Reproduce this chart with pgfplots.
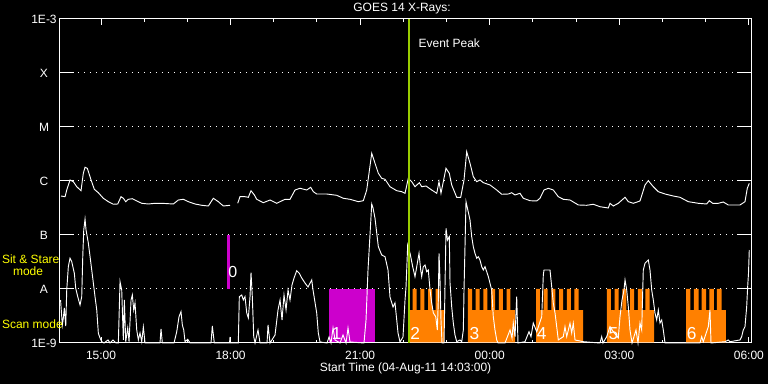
\documentclass[border=0pt]{standalone}
\usepackage{fontspec}
\setmainfont{Liberation Sans}
\usepackage{pgfplots}
\pgfplotsset{compat=1.18}
\definecolor{magcol}{RGB}{204,0,204}
\definecolor{orng}{RGB}{255,128,0}
\definecolor{evgreen}{RGB}{153,204,0}
\definecolor{ylw}{RGB}{255,255,0}
\begin{document}
\begin{tikzpicture}[font=\fontsize{9}{10}\selectfont]
\fill[black] (-45pt,-30.75pt) rectangle (531pt,257.25pt);
\path[use as bounding box] (-45pt,-30.75pt) rectangle (531pt,257.25pt);
\begin{axis}[
 at={(0,0)}, anchor=south west, scale only axis, width=518.25pt, height=243pt,
 font=\fontsize{9}{10}\selectfont,
 xmin=0.05, xmax=16.05, ymin=-9, ymax=-3,
 axis line style={white, line width=0.75pt},
 xtick={1,4,7,10,13,16}, xticklabels={15:00,18:00,21:00,00:00,03:00,06:00},
 minor xtick={2,3,5,6,8,9,11,12,14,15},
 ytick={-9,-8,-7,-6,-5,-4,-3}, yticklabels={1E-9,A,B,C,M,X,1E-3},
 tick align=inside,
 xtick style={white, line width=0.75pt, /pgfplots/major tick length=4.5pt, /pgfplots/minor tick length=2.25pt},
 ytick style={white, line width=0.75pt, /pgfplots/major tick length=10.5pt},
 ymajorgrids, grid style={white, line width=0.75pt, dash pattern=on 0.75pt off 3.75pt},
 xticklabel style={text=white, anchor=center, yshift=-9pt},
 yticklabel style={text=white, anchor=center, xshift=-12pt},
 clip=false,
]
% scan / sit & stare blocks
\addplot[fill=magcol, draw=none, mark=none] coordinates {(6.279,-8.99) (6.279,-8) (7.344,-8) (7.344,-8.99)} -- cycle;
\addplot[magcol, line width=2.5pt, mark=none] coordinates {(3.95,-8) (3.95,-7)};
\addplot[fill=orng, draw=none, mark=none] coordinates {(8.131,-8.99) (8.131,-8.389) (8.217,-8.389) (8.217,-8) (8.310,-8) (8.310,-8.389) (8.393,-8.389) (8.393,-8) (8.486,-8) (8.486,-8.389) (8.571,-8.389) (8.571,-8) (8.664,-8) (8.664,-8.389) (8.750,-8.389) (8.750,-8) (8.842,-8) (8.842,-8.389) (8.942,-8.389) (8.942,-8.99)} -- cycle;
\addplot[fill=orng, draw=none, mark=none] coordinates {(9.497,-8.99) (9.497,-8) (9.590,-8) (9.590,-8.389) (9.676,-8.389) (9.676,-8) (9.768,-8) (9.768,-8.389) (9.854,-8.389) (9.854,-8) (9.947,-8) (9.947,-8.389) (10.032,-8.389) (10.032,-8) (10.125,-8) (10.125,-8.389) (10.211,-8.389) (10.211,-8) (10.303,-8) (10.303,-8.389) (10.389,-8.389) (10.389,-8) (10.481,-8) (10.481,-8.389) (10.586,-8.389) (10.586,-8.99)} -- cycle;
\addplot[fill=orng, draw=none, mark=none] coordinates {(11.072,-8.99) (11.072,-8) (11.164,-8) (11.164,-8.389) (11.250,-8.389) (11.250,-8) (11.343,-8) (11.343,-8.389) (11.428,-8.389) (11.428,-8) (11.521,-8) (11.521,-8.389) (11.606,-8.389) (11.606,-8) (11.699,-8) (11.699,-8.389) (11.785,-8.389) (11.785,-8) (11.877,-8) (11.877,-8.389) (11.963,-8.389) (11.963,-8) (12.056,-8) (12.056,-8.389) (12.160,-8.389) (12.160,-8.99)} -- cycle;
\addplot[fill=orng, draw=none, mark=none] coordinates {(12.714,-8.99) (12.714,-8) (12.806,-8) (12.806,-8.389) (12.894,-8.389) (12.894,-8) (12.987,-8) (12.987,-8.389) (13.072,-8.389) (13.072,-8) (13.165,-8) (13.165,-8.389) (13.250,-8.389) (13.250,-8) (13.343,-8) (13.343,-8.389) (13.429,-8.389) (13.429,-8) (13.522,-8) (13.522,-8.389) (13.607,-8.389) (13.607,-8) (13.700,-8) (13.700,-8.389) (13.804,-8.389) (13.804,-8.99)} -- cycle;
\addplot[fill=orng, draw=none, mark=none] coordinates {(14.545,-8.99) (14.545,-8) (14.649,-8) (14.649,-8.389) (14.730,-8.389) (14.730,-8) (14.835,-8) (14.835,-8.389) (14.908,-8.389) (14.908,-8) (15.013,-8) (15.013,-8.389) (15.087,-8.389) (15.087,-8) (15.191,-8) (15.191,-8.389) (15.262,-8.389) (15.262,-8) (15.367,-8) (15.367,-8.389) (15.471,-8.389) (15.471,-8.99)} -- cycle;
% long-wavelength channel
\addplot[white, line width=0.7pt, mark=none] coordinates {(0.074,-6.278) (0.167,-6.291) (0.206,-6.167) (0.282,-5.981) (0.359,-6.013) (0.438,-6.106) (0.537,-6.180) (0.590,-5.857) (0.630,-5.746) (0.683,-5.765) (0.769,-5.981) (0.845,-6.154) (0.938,-6.217) (1.053,-6.320) (1.169,-6.383) (1.285,-6.431) (1.387,-6.426) (1.463,-6.291) (1.517,-6.320) (1.572,-6.383) (1.632,-6.339) (1.725,-6.328) (1.827,-6.370) (1.943,-6.413) (2.095,-6.426) (2.250,-6.413) (2.406,-6.413) (2.674,-6.426) (2.790,-6.352) (2.906,-6.339) (3.021,-6.383) (3.177,-6.426) (3.332,-6.450) (3.485,-6.463) (3.600,-6.320) (3.716,-6.383) (3.832,-6.463) (3.987,-6.450)};
\addplot[white, line width=0.7pt, mark=none] coordinates {(4.165,-6.413) (4.218,-6.291) (4.334,-6.291) (4.411,-6.302) (4.473,-6.180) (4.550,-6.259) (4.605,-6.339) (4.758,-6.402) (4.913,-6.352) (5.068,-6.413) (5.260,-6.339) (5.376,-6.339) (5.492,-6.167) (5.608,-6.135) (5.763,-6.167) (5.855,-6.117) (5.916,-6.198) (5.994,-6.241) (6.226,-6.241) (6.457,-6.265) (6.610,-6.320) (6.765,-6.339) (6.958,-6.383) (7.073,-6.365) (7.152,-6.167) (7.268,-5.487) (7.344,-5.672) (7.421,-5.857) (7.499,-5.950) (7.576,-5.969) (7.691,-6.106) (7.847,-6.180) (7.962,-6.198) (8.039,-6.228) (8.115,-5.950) (8.194,-6.013) (8.270,-6.106) (8.370,-6.031) (8.425,-6.106) (8.525,-6.093) (8.657,-6.167) (8.773,-6.228) (8.826,-6.013) (8.872,-6.228) (8.988,-5.765) (9.064,-5.857) (9.120,-6.074) (9.236,-6.302) (9.328,-6.302) (9.405,-5.981) (9.467,-5.457) (9.544,-5.672) (9.620,-5.920) (9.699,-6.013) (9.775,-5.981) (9.852,-6.031) (10.007,-6.074) (10.162,-6.167) (10.278,-6.246) (10.431,-6.241) (10.509,-6.217) (10.586,-6.259) (10.701,-6.228) (10.778,-6.320) (10.933,-6.365) (11.088,-6.370) (11.164,-6.320) (11.257,-6.167) (11.357,-6.135) (11.472,-6.167) (11.588,-6.291) (11.704,-6.339) (11.859,-6.352) (12.051,-6.444) (12.246,-6.450) (12.398,-6.431) (12.553,-6.476) (12.746,-6.500) (12.785,-6.413) (12.862,-6.463) (12.977,-6.413) (13.133,-6.302) (13.209,-6.383) (13.325,-6.413) (13.480,-6.370) (13.596,-6.074) (13.672,-5.994) (13.788,-6.106) (13.904,-6.198) (14.059,-6.241) (14.251,-6.278) (14.406,-6.302) (14.598,-6.383) (14.830,-6.413) (15.024,-6.426) (15.084,-6.365) (15.163,-6.413) (15.293,-6.413) (15.408,-6.389) (15.524,-6.444) (15.795,-6.444) (15.911,-6.383) (15.964,-6.135) (16.010,-6.043)};
% short-wavelength channel
\addplot[white, line width=0.7pt, mark=none] coordinates {(0.063,-8.204) (0.104,-8.667) (0.127,-8.537) (0.150,-8.352) (0.183,-8.685) (0.206,-8.019) (0.243,-7.587) (0.282,-7.431) (0.322,-7.494) (0.382,-7.709) (0.414,-7.987) (0.461,-8.143) (0.514,-8.296) (0.553,-8.143) (0.577,-7.402) (0.600,-6.907) (0.630,-6.704) (0.653,-6.907) (0.706,-7.148) (0.785,-7.648) (0.861,-8.143) (0.901,-8.389) (0.938,-8.820) (0.977,-8.907) (1.016,-8.976) (1.070,-9) (1.162,-8.944) (1.209,-9) (1.278,-8.944) (1.348,-9) (1.401,-9) (1.440,-7.865) (1.479,-8.019) (1.517,-8.944) (1.540,-8.204) (1.572,-8.976) (1.618,-8.722) (1.649,-8.976) (1.695,-8.204) (1.725,-8.111) (1.757,-8.389) (1.787,-8.259) (1.827,-8.759) (1.864,-8.944) (1.903,-8.815) (1.943,-8.976) (1.980,-8.704) (2.019,-9) (2.366,-9) (2.389,-8.741) (2.420,-9) (2.690,-9) (2.753,-8.791) (2.806,-8.513) (2.852,-8.420) (2.883,-8.667) (2.915,-8.759) (2.945,-8.976) (3.008,-8.931) (3.061,-9) (3.547,-9) (3.577,-8.685) (3.623,-9) (3.975,-9) (3.987,-8.889) (3.999,-9) (4.179,-9) (4.202,-8.143) (4.258,-8.111) (4.295,-8.204) (4.334,-8.143) (4.374,-8.444) (4.411,-8.537) (4.450,-8.143) (4.473,-7.698) (4.503,-8.143) (4.536,-8.883) (4.566,-9) (4.635,-8.759) (4.682,-9) (4.844,-9) (4.867,-8.667) (4.913,-9) (5.029,-8.852) (5.098,-8.389) (5.145,-8.204) (5.191,-8.574) (5.237,-8.111) (5.284,-8.389) (5.330,-8.019) (5.376,-8.204) (5.422,-7.926) (5.469,-7.796) (5.531,-7.661) (5.591,-7.709) (5.647,-7.796) (5.723,-7.889) (5.793,-7.963) (5.879,-7.833) (5.909,-8.019) (5.994,-8.444) (6.031,-8.815) (6.071,-8.981) (6.233,-9) (6.279,-8.889) (6.325,-9) (6.372,-8.722) (6.418,-8.944) (6.534,-9) (6.603,-8.852) (6.673,-9) (6.719,-8.722) (6.765,-8.981) (7.089,-9) (7.136,-8.574) (7.182,-7.648) (7.268,-6.426) (7.298,-6.500) (7.344,-6.691) (7.421,-7.217) (7.499,-7.370) (7.576,-7.402) (7.645,-7.648) (7.691,-8.148) (7.761,-8.333) (7.807,-8.259) (7.847,-8.574) (7.877,-8.815) (7.923,-8.981) (7.992,-8.889) (8.039,-8.204) (8.062,-7.963) (8.101,-7.185) (8.155,-7.339) (8.217,-7.587) (8.270,-7.772) (8.310,-7.587) (8.363,-7.339) (8.402,-7.648) (8.425,-7.772) (8.462,-7.587) (8.502,-7.556) (8.541,-7.680) (8.578,-7.648) (8.618,-8.019) (8.657,-8.259) (8.694,-8.444) (8.750,-8.513) (8.787,-8.759) (8.810,-8.204) (8.826,-7.339) (8.849,-7.833) (8.872,-8.574) (8.895,-9) (8.942,-9) (8.988,-6.876) (9.023,-7.093) (9.064,-7.031) (9.081,-7.889) (9.120,-8.328) (9.157,-8.630) (9.196,-8.852) (9.236,-8.976) (9.312,-8.944) (9.352,-8.976) (9.389,-8.759) (9.405,-8.019) (9.451,-6.383) (9.544,-6.722) (9.583,-7.031) (9.620,-7.217) (9.659,-7.339) (9.699,-7.431) (9.736,-7.402) (9.775,-7.463) (9.815,-7.587) (9.852,-7.648) (9.891,-7.587) (9.931,-7.680) (9.968,-7.772) (10.007,-7.894) (10.046,-8.019) (10.083,-8.513) (10.122,-8.759) (10.162,-8.944) (10.192,-9) (10.354,-9) (10.470,-8.759) (10.516,-8.907) (10.546,-8.630) (10.586,-8.883) (10.625,-8.143) (10.655,-9) (10.817,-8.976) (10.910,-8.791) (10.956,-8.883) (11.009,-8.630) (11.088,-8.791) (11.204,-8.513) (11.241,-7.741) (11.257,-7.648) (11.357,-7.648) (11.396,-7.648) (11.435,-7.957) (11.472,-8.259) (11.512,-8.444) (11.551,-8.698) (11.588,-8.944) (11.704,-8.883) (11.743,-8.698) (11.783,-8.883) (11.859,-8.635) (11.898,-8.815) (11.935,-8.635) (11.975,-8.944) (12.167,-8.976) (12.553,-9) (12.593,-8.883) (12.623,-9) (12.709,-8.883) (12.785,-8.698) (12.862,-8.791) (12.977,-8.907) (13.017,-8.513) (13.063,-8.204) (13.109,-8.019) (13.133,-7.833) (13.172,-8.019) (13.209,-8.328) (13.248,-8.759) (13.295,-9) (13.387,-8.759) (13.434,-9) (13.480,-8.630) (13.519,-8.759) (13.556,-7.648) (13.596,-7.524) (13.672,-7.463) (13.711,-7.648) (13.751,-8.019) (13.788,-8.204) (13.827,-8.444) (13.866,-8.574) (13.904,-8.389) (13.943,-8.630) (13.982,-8.574) (14.019,-8.759) (14.059,-9) (14.869,-9) (14.908,-8.883) (14.945,-8.976) (15.061,-8.698) (15.100,-8.389) (15.124,-9) (15.448,-8.976) (15.524,-8.944) (15.564,-8.976) (15.795,-8.944) (15.834,-8.883) (15.871,-8.759) (15.911,-8.698) (15.950,-8.328) (15.973,-7.957) (15.992,-7.709) (16.010,-7.278)};
% event peak
\addplot[evgreen, line width=1.5pt, mark=none] coordinates {(8.136,-9) (8.136,-3)};
\node[anchor=west, text=white, inner sep=0pt] at (axis cs:8.347,-3.44) {Event Peak};
% block numbers
\node[anchor=west, text=white, inner sep=0pt, font=\fontsize{12}{12}\selectfont] at (axis cs:3.941,-7.685) {0};
\node[anchor=west, text=white, inner sep=0pt, font=\fontsize{13}{13}\selectfont] at (axis cs:6.337,-8.83) {1};
\node[anchor=west, text=white, inner sep=0pt, font=\fontsize{13}{13}\selectfont] at (axis cs:8.155,-8.82) {2};
\node[anchor=west, text=white, inner sep=0pt, font=\fontsize{13}{13}\selectfont] at (axis cs:9.528,-8.82) {3};
\node[anchor=west, text=white, inner sep=0pt, font=\fontsize{13}{13}\selectfont] at (axis cs:11.088,-8.82) {4};
\node[anchor=west, text=white, inner sep=0pt, font=\fontsize{13}{13}\selectfont] at (axis cs:12.746,-8.82) {5};
\node[anchor=west, text=white, inner sep=0pt, font=\fontsize{13}{13}\selectfont] at (axis cs:14.561,-8.82) {6};
% mode labels
\node[anchor=west, text=ylw, inner sep=0pt] at (axis cs:-1.299,-7.444) {Sit \& Stare};
\node[anchor=west, text=ylw, inner sep=0pt] at (axis cs:-1.044,-7.667) {mode};
\node[anchor=west, text=ylw, inner sep=0pt] at (axis cs:-1.299,-8.648) {Scan mode};
% title and x label
\node[anchor=center, text=white] at (rel axis cs:0.495,1) [yshift=7.5pt] {GOES 14 X-Rays:};
\node[anchor=center, text=white] at (rel axis cs:0.5,0) [yshift=-19.3pt] {Start Time (04-Aug-11 14:03:00)};
\end{axis}
\end{tikzpicture}
\end{document}
